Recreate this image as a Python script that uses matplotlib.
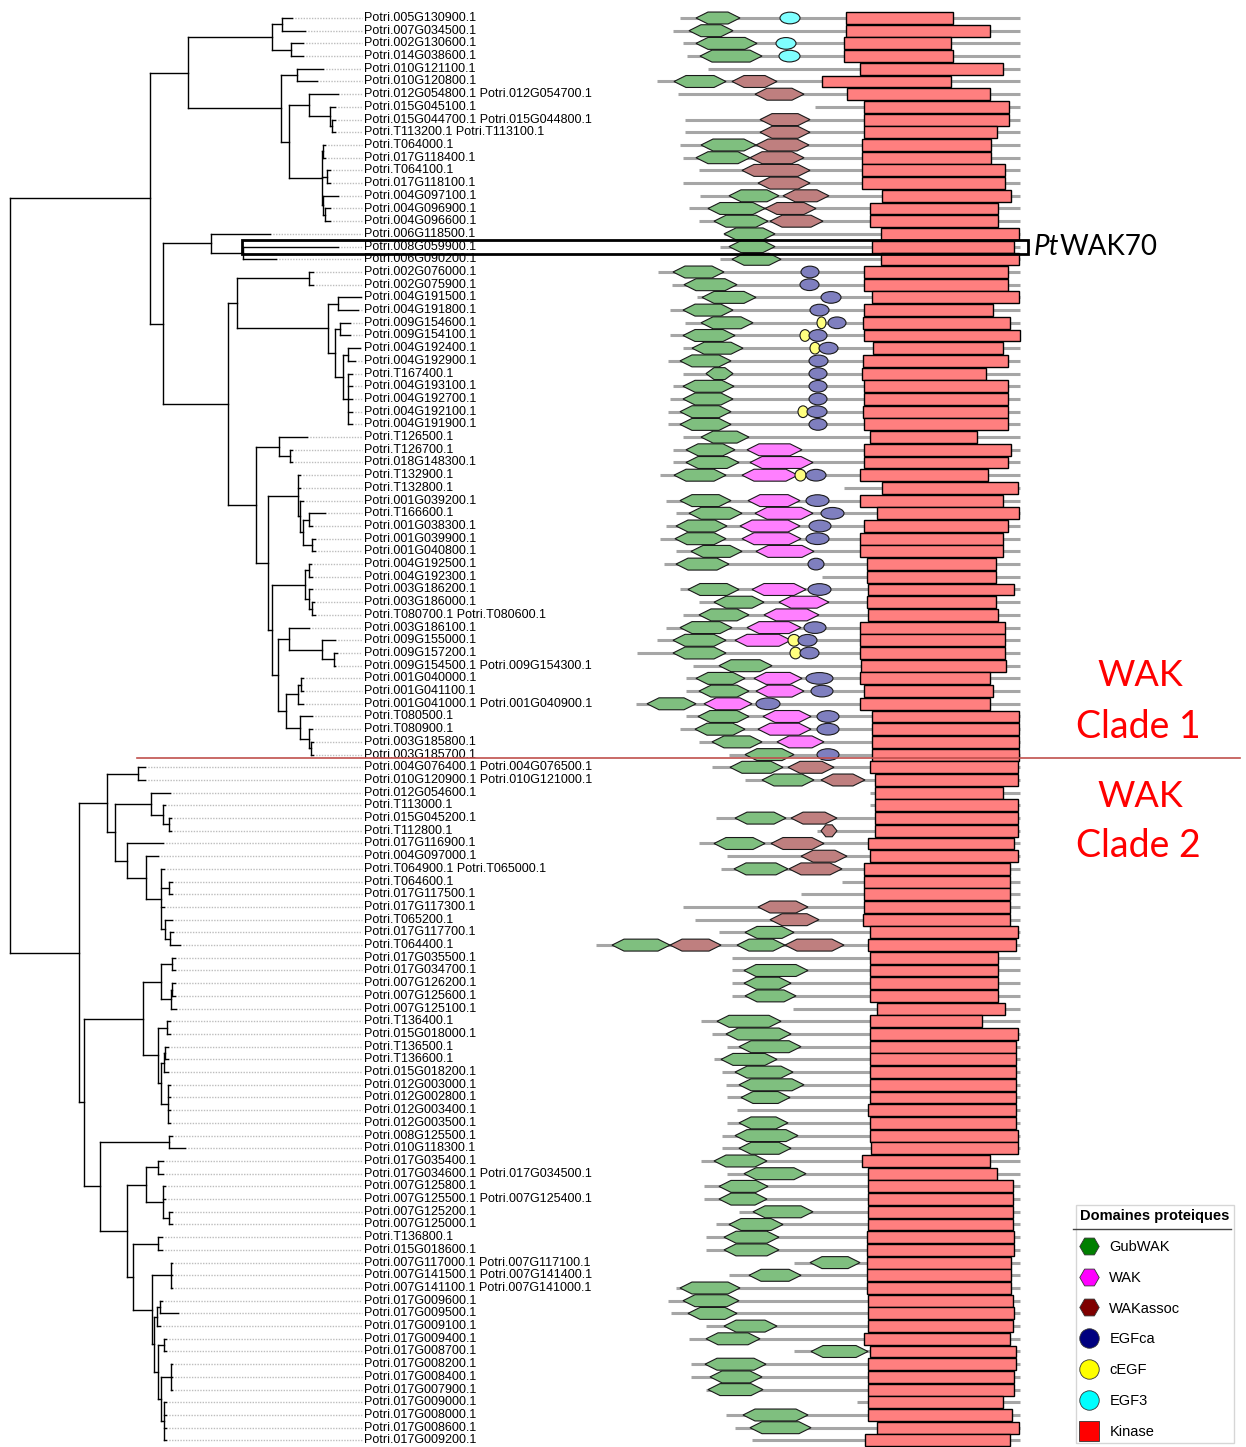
import re
import matplotlib
matplotlib.use("Agg")
import matplotlib.pyplot as plt
from matplotlib.patches import Polygon, Ellipse, Rectangle
from matplotlib.lines import Line2D

# ---------------- data ----------------
labels = [
    "Potri.005G130900.1", "Potri.007G034500.1", "Potri.002G130600.1", "Potri.014G038600.1",
    "Potri.010G121100.1", "Potri.010G120800.1", "Potri.012G054800.1 Potri.012G054700.1",
    "Potri.015G045100.1", "Potri.015G044700.1 Potri.015G044800.1", "Potri.T113200.1 Potri.T113100.1",
    "Potri.T064000.1", "Potri.017G118400.1", "Potri.T064100.1", "Potri.017G118100.1",
    "Potri.004G097100.1", "Potri.004G096900.1", "Potri.004G096600.1", "Potri.006G118500.1",
    "Potri.008G059900.1", "Potri.006G090200.1", "Potri.002G076000.1", "Potri.002G075900.1",
    "Potri.004G191500.1", "Potri.004G191800.1", "Potri.009G154600.1", "Potri.009G154100.1",
    "Potri.004G192400.1", "Potri.004G192900.1", "Potri.T167400.1", "Potri.004G193100.1",
    "Potri.004G192700.1", "Potri.004G192100.1", "Potri.004G191900.1", "Potri.T126500.1",
    "Potri.T126700.1", "Potri.018G148300.1", "Potri.T132900.1", "Potri.T132800.1",
    "Potri.001G039200.1", "Potri.T166600.1", "Potri.001G038300.1", "Potri.001G039900.1",
    "Potri.001G040800.1", "Potri.004G192500.1", "Potri.004G192300.1", "Potri.003G186200.1",
    "Potri.003G186000.1", "Potri.T080700.1 Potri.T080600.1", "Potri.003G186100.1",
    "Potri.009G155000.1", "Potri.009G157200.1", "Potri.009G154500.1 Potri.009G154300.1",
    "Potri.001G040000.1", "Potri.001G041100.1", "Potri.001G041000.1 Potri.001G040900.1",
    "Potri.T080500.1", "Potri.T080900.1", "Potri.003G185800.1", "Potri.003G185700.1",
    "Potri.004G076400.1 Potri.004G076500.1", "Potri.010G120900.1 Potri.010G121000.1",
    "Potri.012G054600.1", "Potri.T113000.1", "Potri.015G045200.1", "Potri.T112800.1",
    "Potri.017G116900.1", "Potri.004G097000.1", "Potri.T064900.1 Potri.T065000.1",
    "Potri.T064600.1", "Potri.017G117500.1", "Potri.017G117300.1", "Potri.T065200.1",
    "Potri.017G117700.1", "Potri.T064400.1", "Potri.017G035500.1", "Potri.017G034700.1",
    "Potri.007G126200.1", "Potri.007G125600.1", "Potri.007G125100.1", "Potri.T136400.1",
    "Potri.015G018000.1", "Potri.T136500.1", "Potri.T136600.1", "Potri.015G018200.1",
    "Potri.012G003000.1", "Potri.012G002800.1", "Potri.012G003400.1", "Potri.012G003500.1",
    "Potri.008G125500.1", "Potri.010G118300.1", "Potri.017G035400.1",
    "Potri.017G034600.1 Potri.017G034500.1", "Potri.007G125800.1",
    "Potri.007G125500.1 Potri.007G125400.1", "Potri.007G125200.1", "Potri.007G125000.1",
    "Potri.T136800.1", "Potri.015G018600.1", "Potri.007G117000.1 Potri.007G117100.1",
    "Potri.007G141500.1 Potri.007G141400.1", "Potri.007G141100.1 Potri.007G141000.1",
    "Potri.017G009600.1", "Potri.017G009500.1", "Potri.017G009100.1", "Potri.017G009400.1",
    "Potri.017G008700.1", "Potri.017G008200.1", "Potri.017G008400.1", "Potri.017G007900.1",
    "Potri.017G009000.1", "Potri.017G008000.1", "Potri.017G008600.1", "Potri.017G009200.1",
]

# tree as newick pieces (leaf = row index, branch lengths in px units)
tree_parts = {
    "root": "(@A:140,@X:69)",
    "A": "(@B:38,@I:13)",
    "B": "(@C:84,@D:93)",
    "C": "((0:10,1:23):10,(2:12,3:12):19)",
    "D": "((4:26,5:20):16,@E:8)",
    "E": "(@F:20,@H:33)",
    "F": "(6:29,(7:5,(8:3,9:3):2):21)",
    "H": "((10:2,11:2):1,(12:3,13:3):5,(14:15,(15:5,16:5):2):1)",
    "I": "(@J:48,@L:65)",
    "J": "(17:59,(18:95,19:33):32)",
    "L": "(@M:9,@O:28)",
    "M": "((20:4,21:4):72,@N:91)",
    "N": "((22:23,23:20):10,((24:10,25:10):5,((26:12,27:7):5,(28:4,29:4,30:4,31:4,32:4):5):8):7)",
    "O": "(@P:23,@Q:12)",
    "P": "(33:28,(34:2,35:2):11)",
    "Q": "(@R:30,@Rest:4)",
    "R": "(36:2,37:2,(38:3,((39:16,40:3):6,(41:3,42:3):9):3):2)",
    "Rest": "(@S:33,@TUV:6)",
    "S": "((43:2,44:3):4,(45:3,(46:2,47:3):3):4)",
    "TUV": "(@T:11,@UV:8)",
    "T": "(48:20,(49:13,(50:3,51:1):12):33)",
    "UV": "(@U:12,@V:14)",
    "U": "((52:2,53:2):3,54:5)",
    "V": "(55:12,(56:3,(57:2,58:2):2):9)",
    "X": "(@Z:28,@Y:5)",
    "Z": "((59:7,60:7):31,@AA:8)",
    "AA": "(@BB:36,@CC:12)",
    "BB": "(61:19,(62:2,(63:2,64:2):6):12)",
    "CC": "(65:36,@DD:19)",
    "DD": "(66:12,@EE:15)",
    "EE": "(67:3,(68:3,69:3):8,70:3,(71:7,(72:3,73:10):5):4)",
    "Y": "(@II:59,@NN:16)",
    "II": "(@JJ:18,@KK:15)",
    "JJ": "((74:3,75:3):11,((76:3,77:3):1,78:5):10)",
    "KK": "((79:3,80:3):9,@MM:3)",
    "MM": "(((81:3,82:3):1,83:4):3,(84:2,85:2,86:2,87:2):7)",
    "NN": "((88:3,89:16):69,@OO:27)",
    "OO": "(@PP:19,@RR:6)",
    "PP": "((90:5,91:5):12,(92:2,93:2,(94:3,95:3):6):17)",
    "RR": "((96:4,97:4):25,@SS:19)",
    "SS": "((98:1,99:1,100:1):19,@UU:2)",
    "UU": "(((101:2,102:18):3,103:3):3,((104:2,105:2):6,((106:1,107:1,108:1):10,"
          "(109:2,110:2,111:2,112:2):3):3):4)",
}

# protein backbone start (all end at 1020) and kinase domain per row
line_start = [680, 673, 683, 687, 708, 657, 678, 815, 685, 685, 680, 683, 699, 683, 700, 689,
              699, 724, 720, 720, 658, 672, 697, 670, 685, 670, 683, 668, 683, 673, 670, 668,
              668, 683, 673, 673, 660, 844, 666, 676, 666, 660, 676, 664, 822, 680, 699, 683,
              666, 657, 637, 693, 686, 686, 636, 686, 680, 699, 729, 712, 745, 870, 870, 716,
              817, 699, 727, 721, 842, 801, 683, 695, 719, 596, 732, 732, 732, 732, 793, 701,
              712, 727, 714, 722, 726, 727, 737, 727, 722, 722, 701, 727, 704, 704, 739, 716,
              706, 706, 794, 729, 676, 668, 671, 706, 689, 794, 691, 691, 706, 857, 726, 735,
              752]
line_end = 1020
kin_start = [846, 846, 844, 844, 860, 822, 847, 864, 864, 864, 862, 862, 862, 862, 882, 870,
             870, 881, 872, 881, 864, 864, 872, 864, 863, 864, 873, 863, 862, 864, 864, 863,
             864, 870, 864, 864, 860, 882, 860, 877, 864, 860, 860, 867, 867, 868, 867, 868,
             860, 860, 860, 861, 860, 864, 860, 872, 872, 872, 872, 870, 875, 875, 875, 875,
             875, 868, 870, 864, 864, 864, 864, 863, 870, 868, 870, 870, 870, 870, 877, 870,
             870, 870, 870, 870, 870, 870, 868, 870, 870, 871, 862, 868, 868, 868, 868, 868,
             867, 867, 867, 867, 867, 868, 868, 868, 864, 870, 868, 868, 868, 868, 868, 877,
             865]
kin_end = [953, 990, 951, 953, 1003, 951, 990, 1009, 1009, 997, 991, 991, 1005, 1005, 1011, 998,
           998, 1019, 1014, 1019, 1008, 1008, 1019, 993, 1010, 1020, 1003, 1008, 986, 1008, 1008,
           1008, 1008, 977, 1011, 1008, 988, 1018, 1003, 1019, 1008, 1003, 1003, 996, 996, 1014,
           996, 998, 1005, 1005, 1005, 1006, 990, 993, 990, 1019, 1019, 1019, 1019, 1018, 1018,
           1003, 1018, 1018, 1018, 1014, 1018, 1010, 1010, 1010, 1010, 1010, 1018, 1016, 998, 998,
           998, 998, 1005, 982, 1018, 1016, 1016, 1016, 1016, 1016, 1016, 1016, 1018, 1018, 990,
           997, 1013, 1013, 1013, 1013, 1014, 1014, 1011, 1011, 1011, 1013, 1014, 1013, 1010,
           1016, 1016, 1014, 1014, 1003, 1012, 1019, 1010]

# other domains: (row, start, end)
gubwak = [(0, 696, 740), (1, 689, 733), (2, 696, 757), (3, 700, 762), (5, 674, 726),
          (10, 701, 756), (11, 696, 750), (14, 729, 779), (15, 708, 765), (16, 714, 768),
          (17, 724, 775), (18, 729, 775), (19, 732, 781), (20, 673, 724), (21, 684, 737),
          (22, 702, 756), (23, 683, 733), (24, 701, 753), (25, 683, 735), (26, 692, 743),
          (27, 680, 731), (28, 706, 733), (29, 683, 734), (30, 683, 733), (31, 680, 731),
          (32, 680, 731), (33, 701, 749), (34, 686, 735), (35, 686, 739), (36, 674, 726),
          (38, 680, 731), (39, 689, 742), (40, 676, 727), (41, 675, 726), (42, 691, 742),
          (43, 676, 729), (45, 688, 739), (46, 714, 764), (47, 699, 749), (48, 680, 732),
          (49, 673, 726), (50, 673, 726), (51, 719, 772), (52, 696, 745), (53, 699, 749),
          (54, 647, 696), (55, 698, 749), (56, 695, 745), (57, 712, 762), (58, 745, 794),
          (59, 730, 783), (60, 762, 814), (63, 735, 786), (65, 714, 765), (67, 734, 788),
          (72, 745, 794), (73, 612, 670), (73, 737, 785), (75, 744, 808), (76, 744, 791),
          (77, 745, 796), (79, 717, 781), (80, 726, 791), (81, 739, 801), (82, 721, 777),
          (83, 735, 793), (84, 739, 804), (85, 741, 790), (87, 739, 788), (88, 735, 798),
          (89, 739, 791), (90, 714, 767), (91, 744, 806), (92, 719, 768), (93, 719, 767),
          (94, 753, 813), (95, 729, 783), (96, 724, 779), (97, 724, 779), (98, 810, 860),
          (99, 749, 801), (100, 680, 740), (101, 683, 739), (102, 688, 737), (103, 724, 777),
          (104, 706, 760), (105, 811, 868), (106, 705, 766), (107, 710, 762), (108, 708, 763),
          (110, 743, 808), (111, 750, 811)]
wak = [(34, 747, 802), (35, 750, 813), (36, 742, 798), (38, 748, 800), (39, 755, 813),
       (40, 740, 800), (41, 742, 801), (42, 756, 814), (45, 752, 806), (46, 779, 829),
       (47, 764, 819), (48, 747, 801), (49, 735, 791), (52, 754, 802), (53, 756, 804),
       (54, 704, 752), (55, 763, 811), (56, 758, 811), (57, 777, 824)]
wakassoc = [(5, 732, 777), (6, 755, 804), (8, 760, 810), (9, 760, 810), (10, 756, 809),
            (11, 750, 804), (12, 742, 810), (13, 758, 810), (14, 783, 829), (15, 765, 816),
            (16, 770, 823), (59, 788, 834), (60, 821, 865), (63, 791, 837), (64, 821, 837),
            (65, 771, 824), (66, 801, 847), (67, 789, 842), (70, 758, 808), (71, 770, 819),
            (73, 670, 721), (73, 785, 844)]
egfca = [(20, 801, 819), (21, 800, 819), (22, 821, 841), (23, 810, 829), (24, 828, 846),
         (25, 809, 827), (26, 819, 838), (27, 809, 828), (28, 809, 827), (29, 809, 827),
         (30, 809, 827), (31, 807, 827), (32, 809, 827), (36, 806, 826), (38, 806, 829),
         (39, 821, 844), (40, 809, 831), (41, 806, 829), (43, 808, 824), (45, 808, 831),
         (48, 804, 826), (49, 798, 817), (50, 800, 819), (52, 806, 833), (53, 811, 833),
         (54, 756, 780), (55, 817, 839), (56, 817, 839), (58, 817, 839)]
cegf = [(24, 817, 826), (25, 800, 810), (26, 810, 820), (31, 798, 808), (36, 795, 806),
        (49, 788, 800), (50, 790, 801)]
egf3 = [(0, 780, 800), (2, 776, 796), (3, 779, 800)]

legend_names = ["GubWAK", "WAK", "WAKassoc", "EGFca", "cEGF", "EGF3", "Kinase"]
legend_colors = ["#007F00", "#FF00FF", "#7F0000", "#00007F", "#FFFF00", "#00FFFF", "#FF0000"]
legend_markers = ["H", "H", "H", "o", "o", "o", "s"]

# ---------------- tree helpers ----------------
def expand(s):
    while "@" in s:
        s = re.sub(r"@(\w+)", lambda m: tree_parts[m.group(1)], s)
    return s


def parse(s, i=0):
    if s[i] == "(":
        kids = []
        i += 1
        while True:
            kid, i = parse(s, i)
            kids.append(kid)
            if s[i] == ",":
                i += 1
            else:
                i += 1
                break
        node = {"kids": kids}
    else:
        j = i
        while s[j] not in ":,);":
            j += 1
        node = {"leaf": int(s[i:j])}
        i = j
    node["len"] = 0.0
    if i < len(s) and s[i] == ":":
        j = i + 1
        while s[j] not in ",);":
            j += 1
        node["len"] = float(s[i + 1:j])
        i = j
    return node, i


def layout(node, x0):
    node["x"] = x0 + node["len"]
    if "kids" in node:
        for k in node["kids"]:
            layout(k, node["x"])
        node["y"] = (node["kids"][0]["y"] + node["kids"][-1]["y"]) / 2
    else:
        node["y"] = node["leaf"]


LABEL_X = 362


def draw_tree(ax, node):
    if "kids" in node:
        kids = node["kids"]
        ax.plot([node["x"], node["x"]], [kids[0]["y"], kids[-1]["y"]], color="black", lw=1, zorder=2)
        for k in kids:
            ax.plot([node["x"], k["x"]], [k["y"], k["y"]], color="black", lw=1, zorder=2)
            draw_tree(ax, k)
    else:
        ax.plot([node["x"], LABEL_X], [node["y"], node["y"]], color="#BDBDBD", lw=1,
                linestyle=(0, (1, 1)), zorder=1)


def hexagon(ax, r, x0, x1, color):
    h = 0.47
    d = min(12, (x1 - x0) * 0.3)
    pts = [(x0, r), (x0 + d, r - h), (x1 - d, r - h), (x1, r), (x1 - d, r + h), (x0 + d, r + h)]
    ax.add_patch(Polygon(pts, closed=True, fc=color, ec="#1a1a1a", lw=0.8, zorder=4))


def oval(ax, r, x0, x1, color):
    ax.add_patch(Ellipse(((x0 + x1) / 2, r), x1 - x0, 0.92, fc=color, ec="#1a1a1a", lw=0.8, zorder=5))


# ---------------- figure ----------------
fig = plt.figure(figsize=(12.46, 14.47), dpi=100)
ax = fig.add_axes([0, 0, 1, 1])
ax.set_xlim(0, 1246)
ax.set_ylim((1447 - 18) / 12.7, -18 / 12.7)
ax.axis("off")

root, _ = parse(expand(tree_parts["root"]) + ";")
layout(root, 10)
draw_tree(ax, root)

for i, lab in enumerate(labels):
    ax.text(364, i, lab, fontsize=9, family="Liberation Sans", va="center", ha="left")

# domains
for i in range(len(labels)):
    ax.plot([line_start[i], line_end], [i, i], color="#A6A6A6", lw=2.2, solid_capstyle="butt", zorder=3)
    ax.add_patch(Rectangle((kin_start[i], i - 0.47), kin_end[i] - kin_start[i], 0.94,
                           fc="#FF7F7F", ec="black", lw=1, zorder=6))
for r, a, b in gubwak:
    hexagon(ax, r, a, b, "#7FBF7F")
for r, a, b in wak:
    hexagon(ax, r, a, b, "#FF7FFF")
for r, a, b in wakassoc:
    hexagon(ax, r, a, b, "#BF7F7F")
for r, a, b in cegf:
    oval(ax, r, a, b, "#FFFF7F")
for r, a, b in egfca:
    oval(ax, r, a, b, "#7F7FBF")
for r, a, b in egf3:
    oval(ax, r, a, b, "#7FFFFF")

# PtWAK70 highlight
ax.add_patch(Rectangle((242, 17.45), 1028 - 242, 1.1, fill=False, ec="black", lw=2, zorder=7))
pt = ax.text(1034, 18, "Pt", fontsize=20, style="italic", family="Lato", va="center", ha="left")
ax.annotate("WAK70", xy=(1, 0), xycoords=pt, va="bottom", ha="left", fontsize=20, family="Lato")

# clade separator and labels
ax.plot([137, 1240], [58.3, 58.3], color="#C0504D", lw=1.2, zorder=7)
ax.text(1140, 51.8, "WAK", color="red", fontsize=26, family="Lato", ha="center", va="center")
ax.text(1138, 55.8, "Clade 1", color="red", fontsize=27, family="Lato", ha="center", va="center")
ax.text(1140, 61.3, "WAK", color="red", fontsize=26, family="Lato", ha="center", va="center")
ax.text(1138, 65.2, "Clade 2", color="red", fontsize=27, family="Lato", ha="center", va="center")

# legend
handles = [Line2D([], [], linestyle="none", marker=m, markersize=14, markerfacecolor=c,
                  markeredgecolor="#333333", markeredgewidth=0.6)
           for m, c in zip(legend_markers, legend_colors)]
leg = ax.legend(handles, legend_names, loc="lower right", bbox_to_anchor=(1234 / 1246, 4 / 1447),
                borderaxespad=0, title="Domaines proteiques", frameon=True, fancybox=False,
                edgecolor="#CCCCCC", prop={"family": "Liberation Sans", "size": 10.5},
                labelspacing=1.15, handlelength=1.2, handletextpad=0.8, borderpad=0.3,
                alignment="left")
leg.get_title().set_fontweight("bold")
leg.get_title().set_fontfamily("Liberation Sans")
leg.get_title().set_fontsize(10.5)
fig.add_artist(Line2D([1073 / 1246, 1231 / 1246], [1 - 1229 / 1447, 1 - 1229 / 1447],
                      color="#444444", lw=1, transform=fig.transFigure))

fig.savefig("out.png", dpi=100)
